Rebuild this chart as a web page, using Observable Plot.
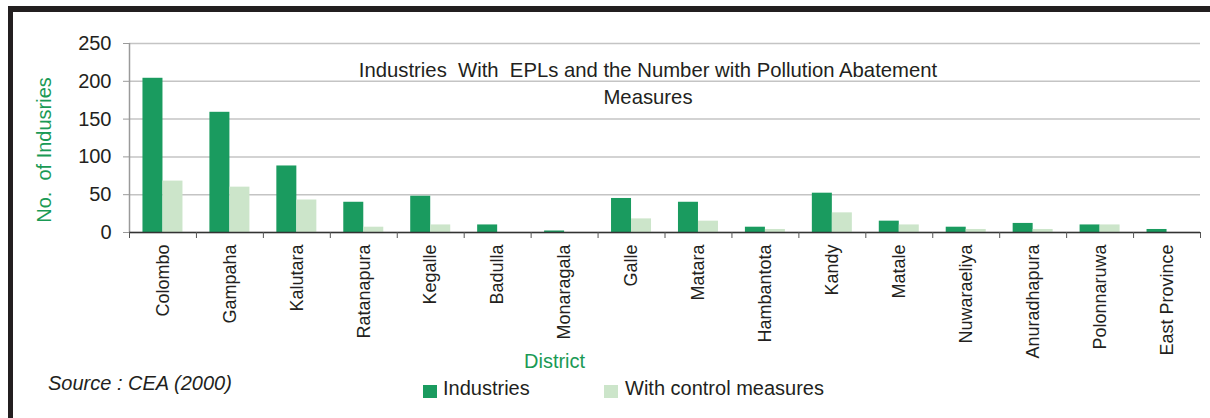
<!DOCTYPE html>
<html>
<head>
<meta charset="utf-8">
<script src="https://cdn.jsdelivr.net/npm/d3@7"></script>
<script src="https://cdn.jsdelivr.net/npm/@observablehq/plot@0.6"></script>
<style>
  html, body { margin: 0; padding: 0; background: #fff; }
  #wrap { position: relative; width: 1210px; height: 418px; overflow: hidden; background: #fff;
          font-family: "Liberation Sans", Arial, Helvetica, sans-serif; color: #231f20; }
  #wrap .abs { position: absolute; white-space: pre; line-height: 1; }
  #chart { position: absolute; left: 0; top: 0; }
  .sw { position: absolute; width: 14px; height: 13px; }
</style>
</head>
<body>
<div id="wrap">
  <div class="abs" style="left:8px;top:6px;width:1202px;height:6px;background:#231f20;"></div>
  <div class="abs" style="left:8px;top:6px;width:5px;height:412px;background:#231f20;"></div>
  <div id="chart"></div>
  <div class="abs" id="title" style="left:248px;width:800px;top:57px;font-size:20.3px;line-height:27px;text-align:center;">Industries  With  EPLs and the Number with Pollution Abatement
Measures</div>
  <div class="abs" id="ylabel" style="left:44px;top:150px;font-size:20px;color:#1a9a55;transform:translate(-50%,-50%) rotate(-90deg);">No.  of Indusries</div>
  <div class="abs" id="xlabel" style="left:524px;top:351px;font-size:20px;color:#1a9a55;">District</div>
  <div class="abs" id="source" style="left:48px;top:373px;font-size:20px;font-style:italic;">Source : CEA (2000)</div>
  <div id="legend"></div>
</div>
<script>
const districts = ["Colombo","Gampaha","Kalutara","Ratanapura","Kegalle","Badulla","Monaragala","Galle","Matara","Hambantota","Kandy","Matale","Nuwaraeliya","Anuradhapura","Polonnaruwa","East Province"];
const industries = [204,159,88,40,48,10,2,45,40,7,52,15,7,12,10,4];
const controlMeasures = [68,60,43,7,10,0,0,18,15,4,26,10,4,4,10,0];
const seriesNames = ["Industries","With control measures"];
const seriesColors = ["#1a9b5f","#cce5ca"];
const yTicks = [0,50,100,150,200,250];

const data = districts.map((d, i) => ({district: d, industries: industries[i], control: controlMeasures[i]}));

const W = 1210, H = 360, mL = 129, mR = 10, mT = 43, mB = 128;
const step = (W - mL - mR) / districts.length;
const barW = 20;

const chart = Plot.plot({
  width: W, height: H,
  marginLeft: mL, marginRight: mR, marginTop: mT, marginBottom: mB,
  style: {fontFamily: '"Liberation Sans", Arial, Helvetica, sans-serif', color: "#231f20", background: "transparent"},
  x: {domain: districts, padding: 0, round: false},
  y: {domain: [0, 250]},
  marks: [
    Plot.gridY(yTicks, {stroke: "#c4c4c4", strokeOpacity: 1, strokeWidth: 1.5}),
    Plot.ruleX([districts[0]], {dx: -step / 2, y1: 0, y2: 250, stroke: "#9a9a9a", strokeWidth: 1.5}),
    Plot.barY(data, {x: "district", y: "industries", fill: seriesColors[0], insetLeft: step / 2 - barW, insetRight: step / 2}),
    Plot.barY(data, {x: "district", y: "control", fill: seriesColors[1], insetLeft: step / 2, insetRight: step / 2 - barW}),
    Plot.ruleY([0], {stroke: "#333", strokeWidth: 1.5}),
    Plot.axisY({ticks: yTicks, tickSize: 6, tickPadding: 12, fontSize: 20, stroke: "#9a9a9a", fill: "#231f20", label: null}),
    Plot.axisX({tickSize: 0, tickRotate: -90, tickPadding: 12, fontSize: 18, fill: "#231f20", label: null}),
    Plot.axisX({ticks: districts, tickSize: 6, dx: -step / 2, tickFormat: () => "", stroke: "#555", label: null}),
    Plot.axisX({ticks: [districts[districts.length - 1]], tickSize: 6, dx: step / 2, tickFormat: () => "", stroke: "#555", label: null})
  ]
});
document.getElementById("chart").appendChild(chart);

const legend = document.getElementById("legend");
const legendPos = [{sx: 423, tx: 443}, {sx: 604, tx: 625}];
seriesNames.forEach((name, i) => {
  const sw = document.createElement("div");
  sw.className = "sw";
  sw.style.left = legendPos[i].sx + "px";
  sw.style.top = "385px";
  sw.style.background = seriesColors[i];
  legend.appendChild(sw);
  const t = document.createElement("div");
  t.className = "abs";
  t.style.left = legendPos[i].tx + "px";
  t.style.top = "378px";
  t.style.fontSize = "20px";
  t.textContent = name;
  legend.appendChild(t);
});
</script>
</body>
</html>
